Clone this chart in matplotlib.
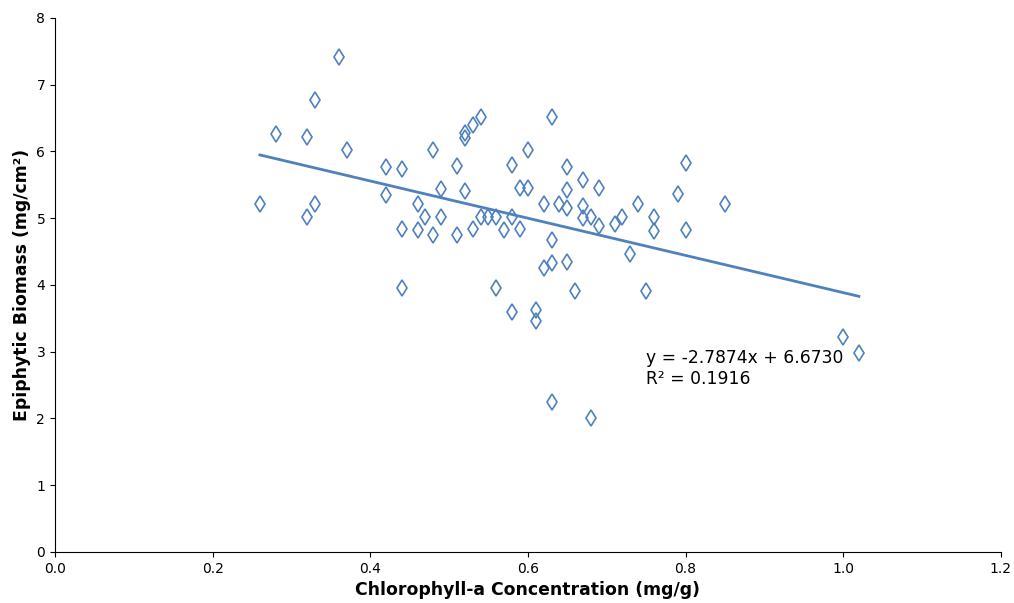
import matplotlib
matplotlib.use("Agg")
import matplotlib.pyplot as plt
import numpy as np

chl = [0.26, 0.28, 0.32, 0.32, 0.33, 0.33, 0.36, 0.37, 0.42, 0.42,
       0.44, 0.44, 0.44, 0.46, 0.46, 0.47, 0.48, 0.48, 0.49, 0.49,
       0.51, 0.51, 0.52, 0.52, 0.52, 0.53, 0.53, 0.54, 0.54, 0.55,
       0.56, 0.56, 0.57, 0.58, 0.58, 0.58, 0.59, 0.59, 0.60, 0.60,
       0.61, 0.61, 0.62, 0.62, 0.63, 0.63, 0.63, 0.63, 0.64, 0.65,
       0.65, 0.65, 0.65, 0.66, 0.67, 0.67, 0.67, 0.68, 0.68, 0.69,
       0.69, 0.71, 0.72, 0.73, 0.74, 0.75, 0.76, 0.76, 0.79, 0.80,
       0.80, 0.85, 1.00, 1.02]
biomass = [5.21, 6.26, 6.22, 5.02, 6.77, 5.22, 7.42, 6.02, 5.77, 5.35,
           5.73, 4.84, 3.96, 5.22, 4.82, 5.02, 6.02, 4.75, 5.44, 5.02,
           5.78, 4.75, 5.41, 6.20, 6.27, 6.40, 4.84, 6.52, 5.02, 5.02,
           5.02, 3.96, 4.82, 5.80, 5.02, 3.60, 5.45, 4.84, 6.02, 5.45,
           3.63, 3.46, 5.21, 4.26, 6.52, 4.67, 4.33, 2.25, 5.21, 5.76,
           5.43, 5.16, 4.34, 3.91, 5.58, 5.18, 5.01, 5.02, 2.00, 5.46,
           4.88, 4.92, 5.02, 4.47, 5.22, 3.91, 5.02, 4.81, 5.37, 5.83,
           4.82, 5.21, 3.22, 2.98]

slope = -2.7874
intercept = 6.6730
r_squared = 0.1916

xlabel = "Chlorophyll-a Concentration (mg/g)"
ylabel = "Epiphytic Biomass (mg/cm²)"

plt.rcParams['font.family'] = ['DejaVu Sans']

fig = plt.figure(figsize=(10.14, 6.03), dpi=100)
ax = fig.add_axes([0.0542, 0.0846, 0.9328, 0.8856])

ax.plot(chl, biomass, linestyle='none', marker='d', markersize=8.5,
        markerfacecolor='none', markeredgecolor='#4f81bd', markeredgewidth=1.2)

xf = np.array([min(chl), max(chl)])
ax.plot(xf, slope * xf + intercept, color='#4f81bd', linewidth=2.0)

ax.text(0.75, 2.75, f"y = {slope:.4f}x + {intercept:.4f}\nR² = {r_squared:.4f}",
        fontsize=12.3, va='center', ha='left', color='black')

ax.set_xlim(0, 1.2)
ax.set_ylim(0, 8)
ax.set_xticks(np.arange(0, 1.21, 0.2))
ax.set_xticklabels([f"{v:.1f}" for v in np.arange(0, 1.21, 0.2)])
ax.set_yticks(range(0, 9))
ax.tick_params(labelsize=10)
ax.spines['top'].set_visible(False)
ax.spines['right'].set_visible(False)
ax.set_xlabel(xlabel, fontsize=12.4, fontweight='bold')
ax.set_ylabel(ylabel, fontsize=12.4, fontweight='bold')

fig.savefig("out.png", dpi=100)
